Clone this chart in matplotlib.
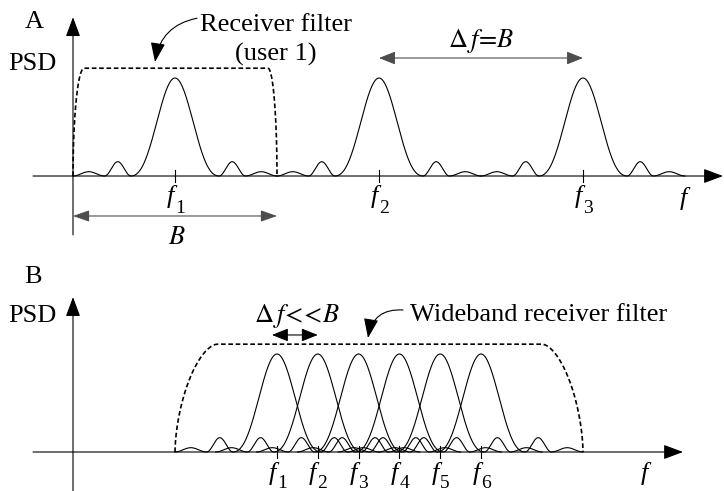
import numpy as np
import matplotlib
matplotlib.use("Agg")
import matplotlib.pyplot as plt

plt.rcParams["font.family"] = ["Liberation Serif", "DejaVu Serif"]
plt.rcParams["mathtext.fontset"] = "stix"

# carrier frequencies, in units of the bandwidth B
carriers_a = [0.5, 1.5, 2.5]
carriers_b = [1.0, 1.2, 1.4, 1.6, 1.8, 2.0]
subs_a = ["1", "2", "3"]
subs_b = ["1", "2", "3", "4", "5", "6"]

# lobe boundaries (offset from carrier, in B) and lobe peak heights
lobe_edges = [0.216, 0.345, 0.5]
lobe_peaks = [1.0, 0.146, 0.044]

# receiver filters: start, flat start, flat end, stop
filter_a = [0.0, 0.054, 0.956, 1.0]
filter_b = [0.5, 0.706, 2.30, 2.50]
filter_height = 1.10


def pulse(fc, n=600):
    u = np.linspace(-lobe_edges[-1], lobe_edges[-1], n)
    a = np.abs(u)
    y = np.zeros_like(u)
    m = a < lobe_edges[0]
    y[m] = lobe_peaks[0] * np.sinc(u[m] / lobe_edges[0]) ** 2
    for k in (1, 2):
        lo, hi = lobe_edges[k - 1], lobe_edges[k]
        m = (a >= lo) & (a <= hi)
        y[m] = lobe_peaks[k] * np.sin(np.pi * (a[m] - lo) / (hi - lo)) ** 2
    return fc + u, y


def filt(edges, h, p):
    s = np.linspace(0, 1, 200)
    t = 1 - (1 - s ** p) ** (1 / p)
    x0, x1, x2, x3 = edges
    xl = x0 + (x1 - x0) * t
    xr = x3 - (x3 - x2) * t
    return np.concatenate([xl, xr[::-1]]), np.concatenate([s * h, (s * h)[::-1]])


def arrow(ax, start, tip, style="-|>,head_length=1.2,head_width=0.45", color="k", rad=0.0):
    ax.annotate("", xy=tip, xytext=start,
                arrowprops=dict(arrowstyle=style, color=color, lw=0.8, mutation_scale=10,
                                shrinkA=0, shrinkB=0, connectionstyle="arc3,rad=%g" % rad))


def flabel(ax, x, base, sub, sub_drop):
    ax.text(x - 0.025, base, "f", fontsize=19, style="italic", ha="center", va="baseline")
    if sub:
        ax.text(x + 0.023, base - sub_drop, sub, fontsize=14, ha="center", va="baseline")


fig = plt.figure(figsize=(7.24, 4.91), dpi=100)
axA = fig.add_axes([0, 246 / 491, 1, 245 / 491])
axB = fig.add_axes([0, 0, 1, 246 / 491])
xlim = (-73 / 204, 651 / 204)
axA.set_xlim(*xlim)
axA.set_ylim(-0.704, 1.796)
axB.set_xlim(*xlim)
axB.set_ylim(-0.398, 2.112)
for ax in (axA, axB):
    ax.axis("off")

fs = 19
dash = (0, (2.8, 1.6))

# ---- panel A ----
arrow(axA, (0, -0.60), (0, 1.62))
arrow(axA, (-0.196, 0), (3.186, 0))
for fc, sub in zip(carriers_a, subs_a):
    x, y = pulse(fc)
    axA.plot(x, y, color="k", lw=0.8)
    axA.plot([fc, fc], [-0.061, 0.061], color="k", lw=0.8)
    flabel(axA, fc, -0.276, sub, 0.10)
xf, yf = filt(filter_a, filter_height, 2.0)
axA.plot(xf, yf, color="k", lw=1.2, linestyle=dash)

axA.text(-0.19, 1.51, "A", fontsize=fs, ha="center", va="baseline")
axA.text(-0.20, 1.08, "PSD", fontsize=fs, ha="center", va="baseline")
axA.text(0.623, 1.48, "Receiver filter", fontsize=fs, ha="left", va="baseline")
axA.text(0.995, 1.18, "(user 1)", fontsize=fs, ha="center", va="baseline")
arrow(axA, (0.608, 1.61), (0.402, 1.163), rad=0.35)
axA.text(2.0, 1.316, r"$\Delta\,f\!=\!B$", fontsize=fs, ha="center", va="baseline")
arrow(axA, (carriers_a[1], 1.204), (carriers_a[2], 1.204),
      style="<|-|>,head_length=1.0,head_width=0.4", color="0.3")
arrow(axA, (filter_a[0], -0.408), (filter_a[3], -0.408),
      style="<|-|>,head_length=1.0,head_width=0.35", color="0.3")
axA.text(0.51, -0.52, r"$B$", fontsize=fs, ha="center", va="top")
flabel(axA, 3.015, -0.296, "", 0)

# ---- panel B ----
arrow(axB, (0, -0.40), (0, 1.58))
arrow(axB, (-0.196, 0), (2.99, 0))
for fc, sub in zip(carriers_b, subs_b):
    x, y = pulse(fc)
    axB.plot(x, y, color="k", lw=0.8)
    axB.plot([fc, fc], [-0.06, 0.06], color="k", lw=0.8)
    flabel(axB, fc, -0.286, sub, 0.085)
xf, yf = filt(filter_b, filter_height, 1.7)
axB.plot(xf, yf, color="k", lw=1.2, linestyle=dash)

axB.text(-0.196, 1.724, "B", fontsize=fs, ha="center", va="baseline")
axB.text(-0.20, 1.327, "PSD", fontsize=fs, ha="center", va="baseline")
axB.text(1.098, 1.327, r"$\Delta\,f\!<\!\!<\!B$", fontsize=fs, ha="center", va="baseline")
arrow(axB, (0.975, 1.194), (1.2, 1.194),
      style="<|-|>,head_length=1.0,head_width=0.4")
axB.text(1.652, 1.337, "Wideband receiver filter", fontsize=fs, ha="left", va="baseline")
arrow(axB, (1.618, 1.449), (1.446, 1.163), rad=0.45)
flabel(axB, 2.825, -0.286, "", 0)

fig.savefig("out.png", dpi=100)
